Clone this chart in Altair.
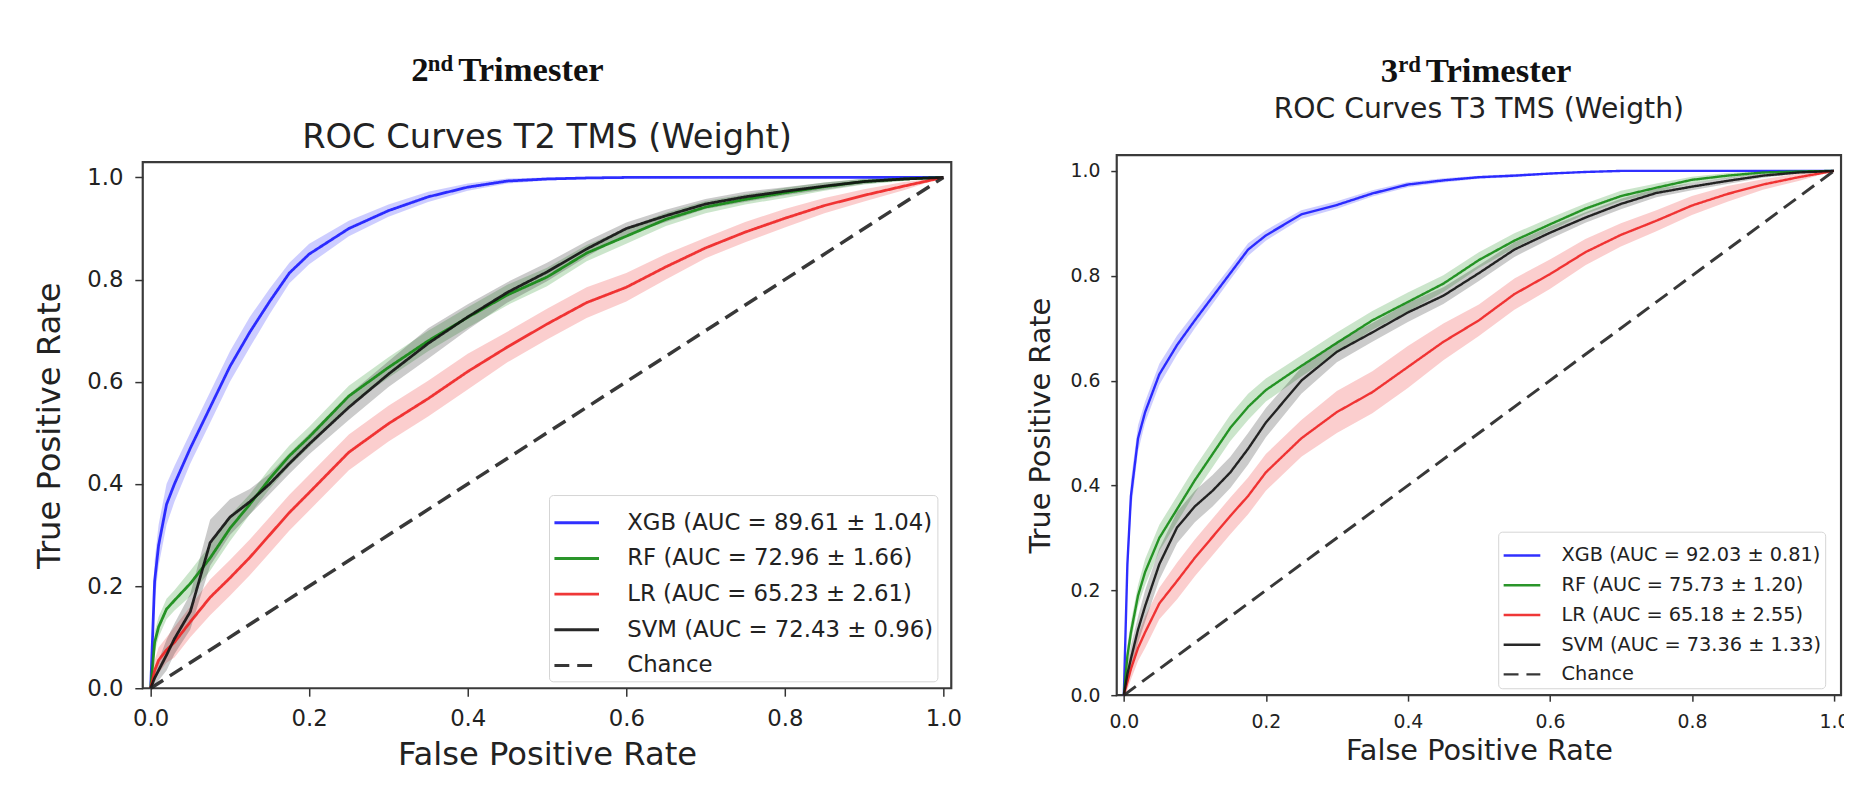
import altair as alt
import pandas as pd

# ---------------- data ----------------
FPR = [0, 0.005, 0.01, 0.02, 0.03, 0.05, 0.075, 0.1, 0.125, 0.15, 0.175, 0.2,
       0.25, 0.3, 0.35, 0.4, 0.45, 0.5, 0.55, 0.6, 0.65, 0.7, 0.75, 0.8, 0.85, 0.9, 0.95, 1.0]
TICKS = [0.0, 0.2, 0.4, 0.6, 0.8, 1.0]
CHANCE_X = [0.0, 1.0]
CHANCE_Y = [0.0, 1.0]

# 2nd trimester
T2_LABELS = ["XGB (AUC = 89.61 \u00b1 1.04)", "RF (AUC = 72.96 \u00b1 1.66)",
             "LR (AUC = 65.23 \u00b1 2.61)", "SVM (AUC = 72.43 \u00b1 0.96)", "Chance"]
T2_XGB = [0, 0.21, 0.28, 0.36, 0.40, 0.47, 0.55, 0.63, 0.697, 0.757, 0.813, 0.85,
          0.90, 0.935, 0.962, 0.981, 0.993, 0.997, 0.999, 1.0, 1.0, 1.0, 1.0, 1.0, 1.0, 1.0, 1.0, 1.0]
T2_XGB_SD = [0, 0.04, 0.04, 0.04, 0.035, 0.03, 0.03, 0.03, 0.03, 0.025, 0.02, 0.02,
             0.015, 0.012, 0.01, 0.007, 0.005, 0.003, 0.002, 0.001, 0.001, 0, 0, 0, 0, 0, 0, 0]
T2_RF = [0, 0.09, 0.12, 0.155, 0.172, 0.205, 0.255, 0.313, 0.36, 0.41, 0.455, 0.492,
         0.572, 0.628, 0.68, 0.726, 0.77, 0.805, 0.852, 0.885, 0.918, 0.942, 0.957, 0.97, 0.982, 0.992, 0.997, 1.0]
T2_RF_SD = [0, 0.02, 0.02, 0.02, 0.02, 0.025, 0.025, 0.025, 0.02, 0.02, 0.02, 0.02,
            0.02, 0.02, 0.02, 0.02, 0.02, 0.018, 0.016, 0.015, 0.013, 0.012, 0.01, 0.01, 0.008, 0.006, 0.004, 0]
T2_LR = [0, 0.035, 0.055, 0.075, 0.09, 0.13, 0.178, 0.216, 0.256, 0.30, 0.344, 0.383,
         0.462, 0.518, 0.567, 0.62, 0.668, 0.713, 0.755, 0.785, 0.825, 0.862, 0.893, 0.92, 0.945, 0.965, 0.983, 1.0]
T2_LR_SD = [0, 0.02, 0.025, 0.025, 0.03, 0.03, 0.035, 0.035, 0.035, 0.035, 0.035, 0.035,
            0.035, 0.035, 0.035, 0.035, 0.03, 0.03, 0.03, 0.028, 0.025, 0.02, 0.02, 0.018, 0.015, 0.012, 0.008, 0]
T2_SVM = [0, 0.02, 0.035, 0.065, 0.097, 0.15, 0.285, 0.335, 0.365, 0.40, 0.44, 0.478,
          0.55, 0.615, 0.675, 0.727, 0.775, 0.815, 0.86, 0.90, 0.925, 0.948, 0.962, 0.973, 0.983, 0.992, 0.997, 1.0]
T2_SVM_SD = [0, 0.015, 0.02, 0.03, 0.03, 0.035, 0.045, 0.035, 0.025, 0.02, 0.02, 0.02,
             0.025, 0.025, 0.03, 0.025, 0.02, 0.018, 0.015, 0.012, 0.012, 0.01, 0.01, 0.008, 0.007, 0.005, 0.003, 0]

# 3rd trimester
T3_LABELS = ["XGB (AUC = 92.03 \u00b1 0.81)", "RF (AUC = 75.73 \u00b1 1.20)",
             "LR (AUC = 65.18 \u00b1 2.55)", "SVM (AUC = 73.36 \u00b1 1.33)", "Chance"]
T3_XGB = [0, 0.25, 0.38, 0.49, 0.54, 0.612, 0.668, 0.715, 0.76, 0.805, 0.85, 0.877,
          0.917, 0.935, 0.957, 0.974, 0.982, 0.988, 0.991, 0.995, 0.998, 1.0, 1.0, 1.0, 1.0, 1.0, 1.0, 1.0]
T3_XGB_SD = [0, 0.03, 0.03, 0.025, 0.02, 0.02, 0.018, 0.015, 0.014, 0.012, 0.012, 0.01,
             0.008, 0.007, 0.006, 0.005, 0.004, 0.003, 0.003, 0.002, 0.001, 0, 0, 0, 0, 0, 0, 0]
T3_RF = [0, 0.075, 0.12, 0.19, 0.235, 0.30, 0.355, 0.41, 0.46, 0.51, 0.55, 0.582,
         0.628, 0.672, 0.715, 0.75, 0.785, 0.83, 0.867, 0.898, 0.928, 0.952, 0.968, 0.983, 0.991, 0.997, 0.999, 1.0]
T3_RF_SD = [0, 0.02, 0.02, 0.02, 0.025, 0.025, 0.025, 0.025, 0.025, 0.025, 0.025, 0.022,
            0.02, 0.02, 0.018, 0.018, 0.016, 0.015, 0.014, 0.012, 0.01, 0.01, 0.008, 0.006, 0.005, 0.003, 0.002, 0]
T3_LR = [0, 0.025, 0.05, 0.09, 0.12, 0.175, 0.218, 0.262, 0.302, 0.342, 0.38, 0.425,
         0.49, 0.54, 0.578, 0.626, 0.674, 0.715, 0.765, 0.803, 0.845, 0.878, 0.905, 0.934, 0.956, 0.974, 0.988, 1.0]
T3_LR_SD = [0, 0.015, 0.02, 0.025, 0.03, 0.03, 0.035, 0.035, 0.035, 0.035, 0.035, 0.035,
            0.035, 0.04, 0.04, 0.04, 0.035, 0.03, 0.03, 0.028, 0.025, 0.022, 0.02, 0.018, 0.015, 0.01, 0.007, 0]
T3_SVM = [0, 0.04, 0.07, 0.125, 0.17, 0.25, 0.32, 0.36, 0.39, 0.425, 0.47, 0.52,
          0.6, 0.655, 0.692, 0.73, 0.762, 0.805, 0.85, 0.882, 0.911, 0.937, 0.958, 0.97, 0.981, 0.991, 0.997, 1.0]
T3_SVM_SD = [0, 0.02, 0.025, 0.025, 0.03, 0.03, 0.03, 0.03, 0.03, 0.03, 0.03, 0.028,
             0.025, 0.02, 0.018, 0.018, 0.016, 0.015, 0.014, 0.012, 0.01, 0.01, 0.008, 0.007, 0.006, 0.004, 0.002, 0]

LINE_COLORS = ["#1a1aff", "#138a13", "#ee2222", "#111111", "#222222"]
DASHES = [[1, 0], [1, 0], [1, 0], [1, 0], [15, 8]]


def curves_df(labels, curves, sds):
    rows = []
    for lab, tpr, sd in zip(labels, curves, sds):
        for f, t, s in zip(FPR, tpr, sd):
            rows.append({"fpr": f, "tpr": t, "lo": max(t - s, 0.0), "hi": min(t + s, 1.0), "label": lab})
    return pd.DataFrame(rows)


def chance_df(label):
    return pd.DataFrame({"fpr": CHANCE_X, "tpr": CHANCE_Y, "label": [label, label]})


def panel(df, cdf, labels, title, num, sup, c):
    xs = alt.Scale(domain=[-0.01, 1.01], nice=False, zero=False)
    ys = alt.Scale(domain=[0.0, 1.03], nice=False, zero=False)
    cscale = alt.Scale(domain=labels, range=LINE_COLORS)
    dscale = alt.Scale(domain=labels, range=DASHES)
    common = dict(values=TICKS, format=".1f", grid=False, domain=False,
                  labelFont="DejaVu Sans", titleFont="DejaVu Sans", titleFontWeight="normal",
                  labelColor="#222", titleColor="#222", tickColor="#333", tickWidth=1.5,
                  tickSize=c["tick"], labelFontSize=c["tickfont"], titleFontSize=c["axfont"],
                  labelFlush=False, labelOverlap=False, labelBound=False)
    xaxis = alt.Axis(title="False Positive Rate", labelPadding=c["xlp"], titlePadding=c["xtp"], **common)
    yaxis = alt.Axis(title="True Positive Rate", labelPadding=c["ylp"], titlePadding=c["ytp"], **common)
    legend = alt.Legend(title=None, orient="none", legendX=c["lx"], legendY=c["ly"],
                        symbolType="stroke", symbolSize=c["lsym"] ** 2, symbolStrokeWidth=c["lsw"],
                        labelFont="DejaVu Sans", labelFontSize=c["lfont"], labelColor="#222",
                        labelOffset=c["loff"], labelLimit=500, rowPadding=c["lrow"],
                        fillColor="white", strokeColor="#d4d4d4", cornerRadius=4, padding=c["lpad"])
    X = alt.X("fpr:Q", scale=xs, axis=xaxis)
    Y = alt.Y("tpr:Q", scale=ys, axis=yaxis)
    color = alt.Color("label:N", scale=cscale, legend=legend)
    dash = alt.StrokeDash("label:N", scale=dscale, legend=legend)

    band = alt.Chart(df).mark_area(fillOpacity=0.22).encode(
        x=X, y=alt.Y("lo:Q", scale=ys, axis=yaxis), y2="hi:Q",
        fill=alt.Fill("label:N", scale=cscale, legend=legend))
    lines = alt.Chart(df).mark_line(strokeWidth=c["lw"], opacity=0.9).encode(
        x=X, y=Y, color=color, strokeDash=dash)
    chance = alt.Chart(cdf).mark_line(strokeWidth=c["cw"], opacity=0.9).encode(
        x=X, y=Y, color=color, strokeDash=dash)

    one = alt.Data(values=[{}])
    ttl = alt.Chart(one).mark_text(text=title, font="DejaVu Sans", fontSize=c["tfont"], color="#222",
                                   align="center", baseline="alphabetic").encode(
        x=alt.value(c["w"] / 2), y=alt.value(c["ty"]))
    h1 = alt.Chart(one).mark_text(text=num, font="Liberation Serif", fontWeight="bold", fontSize=c["hfont"],
                                  color="#111", align="left", baseline="alphabetic").encode(
        x=alt.value(c["hx"][0]), y=alt.value(c["hy"]))
    h2 = alt.Chart(one).mark_text(text=sup, font="Liberation Serif", fontWeight="bold", fontSize=c["sfont"],
                                  color="#111", align="left", baseline="alphabetic").encode(
        x=alt.value(c["hx"][1]), y=alt.value(c["hy"] - c["rz"]))
    h3 = alt.Chart(one).mark_text(text="Trimester", font="Liberation Serif", fontWeight="bold",
                                  fontSize=c["hfont"], color="#111", align="left", baseline="alphabetic").encode(
        x=alt.value(c["hx"][2]), y=alt.value(c["hy"]))
    return alt.layer(band, lines, chance, ttl, h1, h2, h3).properties(width=c["w"], height=c["h"])


LEFT = dict(w=816, h=531, tick=8, tickfont=23, axfont=32.5, tfont=34, xlp=11.5, xtp=8.5, ylp=12, ytp=20,
            lx=410, ly=336, lsym=45, lsw=3, lfont=23, loff=27, lrow=0, lpad=4, lw=2.8, cw=3.5,
            ty=-13.8, hy=-81.8, hx=[271, 287.7, 318.3], hfont=35, sfont=23, rz=10.5)
RIGHT = dict(w=731, h=545, tick=6, tickfont=19, axfont=29, tfont=28.5, xlp=11.5, xtp=5, ylp=11, ytp=15,
             lx=385, ly=380, lsym=37, lsw=2.5, lfont=19.5, loff=20, lrow=0, lpad=4, lw=2.4, cw=3,
             ty=-37.8, hy=-73.8, hx=[266.5, 284, 312], hfont=35, sfont=23, rz=10.5)

left = panel(curves_df(T2_LABELS, [T2_XGB, T2_RF, T2_LR, T2_SVM], [T2_XGB_SD, T2_RF_SD, T2_LR_SD, T2_SVM_SD]),
             chance_df(T2_LABELS[-1]), T2_LABELS, "ROC Curves T2 TMS (Weight)", "2", "nd", LEFT)
right = panel(curves_df(T3_LABELS, [T3_XGB, T3_RF, T3_LR, T3_SVM], [T3_XGB_SD, T3_RF_SD, T3_LR_SD, T3_SVM_SD]),
              chance_df(T3_LABELS[-1]), T3_LABELS, "ROC Curves T3 TMS (Weigth)", "3", "rd", RIGHT)

chart = alt.hconcat(left, right, spacing=167, center=True, bounds="flush").resolve_scale(
    x="independent", y="independent", color="independent", strokeDash="independent", fill="independent"
).resolve_legend(color="independent", strokeDash="independent", fill="independent").configure_view(
    stroke="#3a3a3a", strokeWidth=2.2
).properties(padding={"left": 25, "top": 40, "right": -7, "bottom": 0}, background="white")

chart.save("out.html", embed_options={"renderer": "svg", "actions": False})
